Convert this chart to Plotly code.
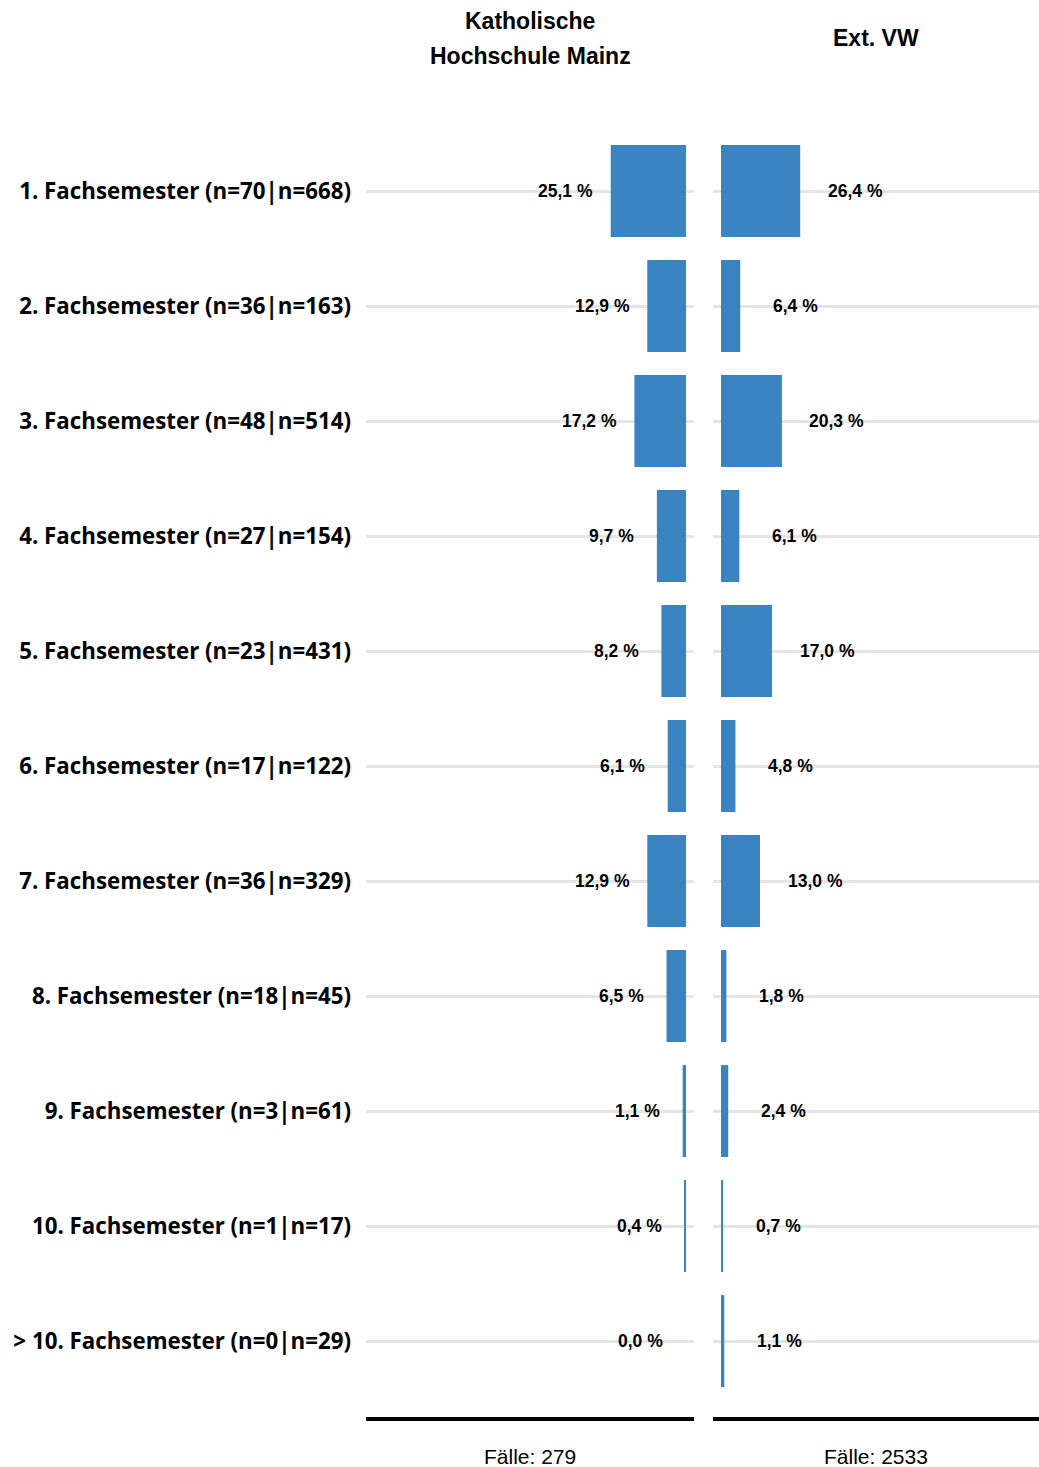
import plotly.graph_objects as go

categories = [
    "1. Fachsemester (n=70|n=668)",
    "2. Fachsemester (n=36|n=163)",
    "3. Fachsemester (n=48|n=514)",
    "4. Fachsemester (n=27|n=154)",
    "5. Fachsemester (n=23|n=431)",
    "6. Fachsemester (n=17|n=122)",
    "7. Fachsemester (n=36|n=329)",
    "8. Fachsemester (n=18|n=45)",
    "9. Fachsemester (n=3|n=61)",
    "10. Fachsemester (n=1|n=17)",
    "> 10. Fachsemester (n=0|n=29)",
]
khm_values = [25.1, 12.9, 17.2, 9.7, 8.2, 6.1, 12.9, 6.5, 1.1, 0.4, 0.0]
vw_values = [26.4, 6.4, 20.3, 6.1, 17.0, 4.8, 13.0, 1.8, 2.4, 0.7, 1.1]
panel_titles = [["Katholische", "Hochschule Mainz"], ["Ext. VW"]]
case_labels = ["Fälle: 279", "Fälle: 2533"]

W, H = 1039, 1467
BAR = "rgb(51,128,191)"
ypos = list(range(len(categories)))

def fmt(v):
    return f"{v:.1f}".replace(".", ",") + " %"

fig = go.Figure()
fig.add_trace(go.Bar(y=ypos, x=khm_values, orientation="h", width=0.8,
                     marker=dict(color=BAR, line=dict(width=0)), opacity=0.97,
                     xaxis="x", yaxis="y", showlegend=False, hoverinfo="skip"))
fig.add_trace(go.Bar(y=ypos, x=vw_values, orientation="h", width=0.8,
                     marker=dict(color=BAR, line=dict(width=0)), opacity=0.97,
                     xaxis="x2", yaxis="y2", showlegend=False, hoverinfo="skip"))

VFONT = dict(family="Liberation Sans", size=17.5, color="black", weight="bold")
annotations = []
for i, v in enumerate(khm_values):
    annotations.append(dict(x=v, y=i, xref="x", yref="y", text=fmt(v), showarrow=False,
                            xanchor="center", xshift=-45, font=VFONT))
for i, v in enumerate(vw_values):
    annotations.append(dict(x=v, y=i, xref="x2", yref="y2", text=fmt(v), showarrow=False,
                            xanchor="center", xshift=55, font=VFONT))

dl = [366 / W, 694 / W]
dr = [713 / W, 1.0]
ydom = [1 - 1417 / H, 1 - 133.5 / H]

TFONT = dict(family="Liberation Sans", size=23, color="black", weight="bold")
title_rows = {1: [38], 2: [21, 56]}
for dom, lines in zip([dl, dr], panel_titles):
    for line, ypx in zip(lines, title_rows[len(lines)]):
        annotations.append(dict(x=(dom[0] + dom[1]) / 2, y=1 - ypx / H, xref="paper", yref="paper",
                                text=line, showarrow=False, xanchor="center", yanchor="middle",
                                font=TFONT))
for dom, lab in zip([dl, dr], case_labels):
    annotations.append(dict(x=(dom[0] + dom[1]) / 2, y=1 - 1456 / H, xref="paper", yref="paper",
                            text=lab, showarrow=False, xanchor="center", yanchor="middle",
                            font=dict(family="Liberation Sans", size=21, color="black")))

yrange = [10.66, -0.5]
common_y = dict(range=yrange, domain=ydom, showgrid=True, gridcolor="#e5e5e5", gridwidth=3,
                zeroline=False, tickvals=ypos, showline=False, ticks="")

fig.update_layout(
    width=W, height=H,
    margin=dict(l=0, r=0, t=0, b=0),
    paper_bgcolor="white", plot_bgcolor="white",
    xaxis=dict(domain=dl, range=[106.7, -2.67], showgrid=False, zeroline=False,
               showticklabels=False, ticks="", showline=True, linecolor="black", linewidth=4,
               anchor="y"),
    xaxis2=dict(domain=dr, range=[-2.67, 106.0], showgrid=False, zeroline=False,
                showticklabels=False, ticks="", showline=True, linecolor="black", linewidth=4,
                anchor="y2"),
    yaxis=dict(**common_y, ticktext=categories, showticklabels=True, anchor="x",
               ticklabelstandoff=14,
               tickfont=dict(family="Open Sans", size=22.3, color="black", weight="bold")),
    yaxis2=dict(**common_y, showticklabels=False, anchor="x2"),
    annotations=annotations,
)

fig.write_html("out.html", config={"displayModeBar": False},
               post_script="document.body.style.margin='0';")
